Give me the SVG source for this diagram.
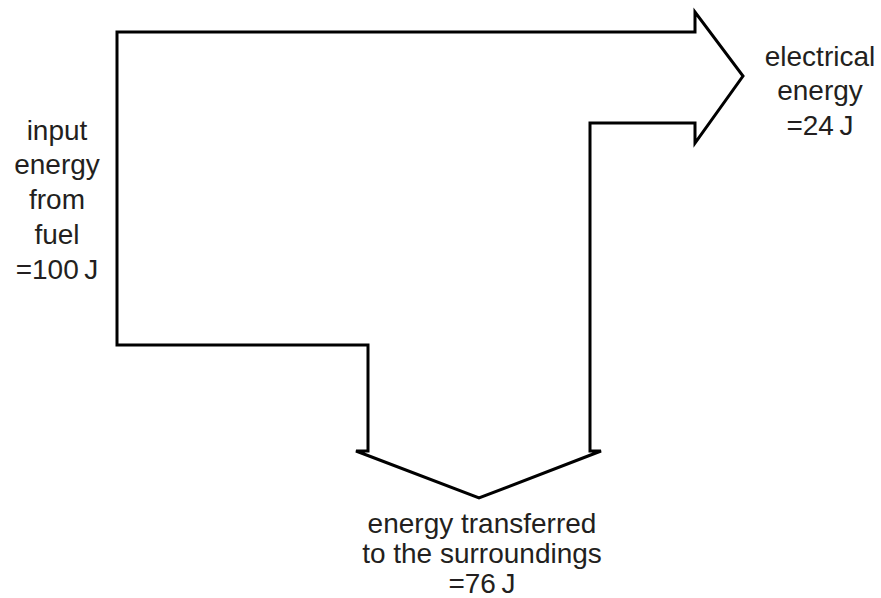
<svg xmlns="http://www.w3.org/2000/svg" width="881" height="598" viewBox="0 0 881 598">
<style>
.lbl{font-family:"Liberation Sans",Arial,sans-serif;font-size:28px;fill:#231f20;text-anchor:middle}
.flow{fill:none;stroke:#000;stroke-width:3;stroke-linejoin:miter}
</style>
<rect width="881" height="598" fill="#fff"/>
<g id="connectors">
<path id="sankey" class="flow" d="M117,32 H695 V12 L743,76 L695,143 V123 H590 V451 H601 L479,498 L356,451 H368 V345 H117 Z"/>
</g>
<g id="input">
<text class="lbl" x="57" y="140">input</text>
<text class="lbl" x="57" y="174">energy</text>
<text class="lbl" x="57" y="209">from</text>
<text class="lbl" x="57" y="244">fuel</text>
<text class="lbl" x="57" y="279">=100&#8201;J</text>
</g>
<g id="electrical">
<text class="lbl" x="820" y="66">electrical</text>
<text class="lbl" x="820" y="100">energy</text>
<text class="lbl" x="820" y="135">=24&#8201;J</text>
</g>
<g id="surroundings">
<text class="lbl" x="482" y="533">energy transferred</text>
<text class="lbl" x="482" y="563">to the surroundings</text>
<text class="lbl" x="482" y="593">=76&#8201;J</text>
</g>
</svg>
